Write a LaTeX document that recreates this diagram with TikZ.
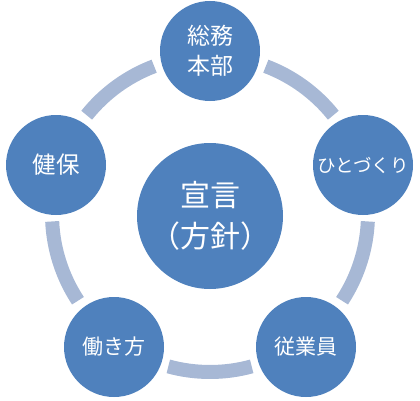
\documentclass[tikz,border=0pt]{standalone}
\usepackage{fontspec}
\setmainfont{Noto Sans CJK JP}
\definecolor{nodeblue}{HTML}{4F81BD}
\definecolor{ringblue}{HTML}{A7B8D5}
\begin{document}
\begin{tikzpicture}[x=1pt,y=1pt,
  outer/.style={circle,fill=nodeblue,text=white,minimum size=100pt,inner sep=0pt,align=center},
  hub/.style={circle,fill=nodeblue,text=white,minimum size=146pt,inner sep=0pt,align=center},
  ringarc/.style={draw=ringblue,line width=14pt}]
\useasboundingbox (0,0) rectangle (420,400);
\coordinate (ring) at (210,186);
% ring arcs
\foreach \m in {54,-18,-90,198,126}{
  \draw[ringarc] ([shift={(\m-15.3:158)}]ring) arc[start angle=\m-15.3, end angle=\m+15.3, radius=158];
}
\node[hub,font=\fontsize{30}{41}\selectfont] (center) at (210,184) {宣言\\（方針）};
\node[outer,font=\fontsize{23}{30}\selectfont] (top) at (210,349) {総務\\本部};
\node[outer,font=\fontsize{18.5}{22}\selectfont] (right) at (363,235) {ひとづくり};
\node[outer,font=\fontsize{21}{25}\selectfont] (br) at (306,53) {従業員};
\node[outer,font=\fontsize{21}{25}\selectfont] (bl) at (114,53) {働き方};
\node[outer,font=\fontsize{23.5}{28}\selectfont] (left) at (56,235) {健保};
\end{tikzpicture}
\end{document}
